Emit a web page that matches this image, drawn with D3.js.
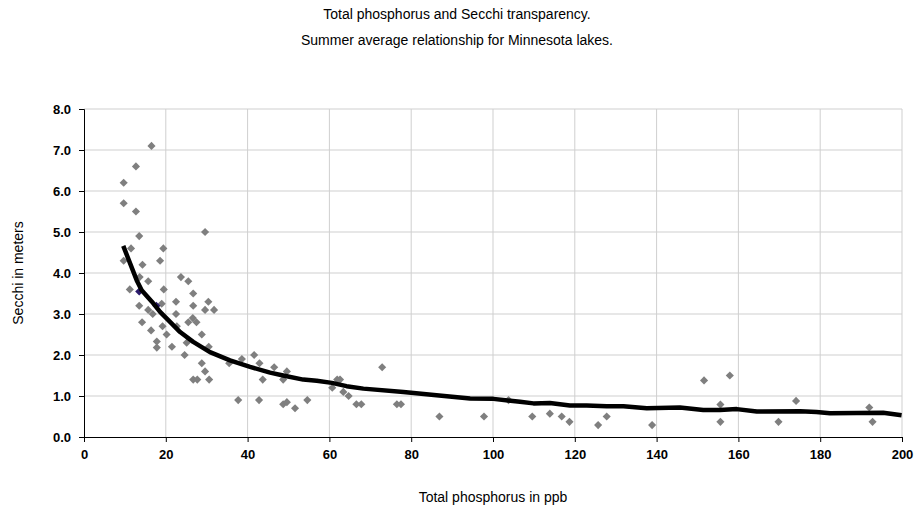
<!DOCTYPE html>
<html>
<head>
<meta charset="utf-8">
<script src="https://cdn.jsdelivr.net/npm/d3@7"></script>
<style>
  body { margin: 0; background: #fff; }
  svg text { font-family: "Liberation Sans", Arial, sans-serif; fill: #000; }
</style>
</head>
<body>
<div id="root"></div>
<script>
// lake observations: total phosphorus (ppb) and summer Secchi depth (m)
var tpValues = [16.5, 12.7, 9.7, 9.7, 12.7, 13.5, 29.6, 11.5, 19.4, 9.7,
  14.3, 18.6, 23.7, 13.6, 25.5, 15.7, 26.7, 11.2, 19.5, 30.4,
  22.5, 19.0, 13.5, 26.7, 29.6, 31.8, 15.7, 16.8, 22.5, 26.6,
  27.5, 25.5, 14.2, 19.2, 20.2, 16.4, 22.7, 28.8, 17.8, 17.8,
  21.5, 25.1, 30.5, 24.6, 28.8, 29.6, 26.7, 27.7, 30.6, 35.5,
  38.6, 41.6, 42.9, 43.7, 37.7, 42.8, 46.5, 49.6, 48.7, 48.7,
  49.6, 51.6, 54.6, 60.7, 61.9, 62.6, 63.4, 64.7, 66.6, 67.8,
  72.9, 76.5, 77.5, 86.9, 97.8, 103.8, 109.6, 113.9, 116.8, 118.7,
  125.7, 127.8, 138.9, 151.6, 155.6, 155.6, 157.9, 169.8, 174.1, 192.0, 192.8];
var secchiValues = [7.1, 6.6, 6.2, 5.7, 5.5, 4.9, 5.0, 4.6, 4.6, 4.3,
  4.2, 4.3, 3.9, 3.9, 3.8, 3.8, 3.5, 3.6, 3.6, 3.3,
  3.3, 3.25, 3.2, 3.2, 3.1, 3.1, 3.1, 3.0, 3.0, 2.9,
  2.8, 2.8, 2.8, 2.7, 2.5, 2.6, 2.7, 2.5, 2.33, 2.18,
  2.2, 2.3, 2.2, 2.0, 1.8, 1.6, 1.4, 1.4, 1.4, 1.8,
  1.9, 2.0, 1.8, 1.4, 0.9, 0.9, 1.7, 1.6, 1.4, 0.8,
  0.85, 0.7, 0.9, 1.2, 1.4, 1.4, 1.1, 1.0, 0.8, 0.8,
  1.7, 0.8, 0.8, 0.5, 0.5, 0.9, 0.5, 0.57, 0.5, 0.37,
  0.29, 0.5, 0.29, 1.38, 0.79, 0.37, 1.5, 0.37, 0.88, 0.72, 0.37];

// two highlighted lakes (dark markers)
var tpHighlight = [13.5, 17.7];
var secchiHighlight = [3.55, 3.2];

// fitted relationship as drawn
var lineTP = [9.6, 12.9, 14.1, 16.6, 18.6, 21.4, 23.5, 26.7, 30.8, 35.7,
  40.6, 45.5, 48.7, 53.6, 56.9, 60.6, 64.2, 68.3, 78.1, 86.2,
  94.4, 100.1, 106.6, 109.9, 113.9, 118.8, 122.9, 127.8, 131.9, 137.6,
  145.7, 151.4, 155.5, 159.6, 164.5, 175.1, 179.1, 182.4, 195.4, 199.9];
var lineSecchi = [4.66, 3.82, 3.58, 3.3, 3.05, 2.77, 2.56, 2.32, 2.07, 1.87,
  1.71, 1.57, 1.5, 1.4, 1.37, 1.32, 1.24, 1.18, 1.1, 1.02,
  0.94, 0.93, 0.86, 0.82, 0.83, 0.77, 0.77, 0.75, 0.75, 0.7,
  0.72, 0.66, 0.66, 0.68, 0.62, 0.63, 0.61, 0.58, 0.59, 0.53];

var xTicks = [0, 20, 40, 60, 80, 100, 120, 140, 160, 180, 200];
var yTicks = [0, 1, 2, 3, 4, 5, 6, 7, 8];

var width = 914, height = 512;
var margin = {top: 109, right: 12, bottom: 75, left: 84};

var svg = d3.select("#root")
  .append("svg")
  .attr("width", width)
  .attr("height", height);

var x = d3.scaleLinear().domain([0, 200]).range([margin.left, width - margin.right]);
var y = d3.scaleLinear().domain([0, 8]).range([height - margin.bottom, margin.top]);

// gridlines
svg.append("g")
  .selectAll("line.v")
  .data(xTicks.slice(1))
  .enter()
  .append("line")
  .attr("x1", d => x(d)).attr("x2", d => x(d))
  .attr("y1", y(0)).attr("y2", y(8))
  .attr("stroke", "#cfcfcf");

svg.append("g")
  .selectAll("line.h")
  .data(yTicks.slice(1))
  .enter()
  .append("line")
  .attr("x1", x(0)).attr("x2", x(200))
  .attr("y1", d => y(d)).attr("y2", d => y(d))
  .attr("stroke", "#cfcfcf");

// axes
var xAxis = d3.axisBottom(x).tickValues(xTicks).tickSize(5).tickPadding(8);
var yAxis = d3.axisLeft(y).tickValues(yTicks).tickSize(5).tickPadding(8)
  .tickFormat(d3.format(".1f"));

var gx = svg.append("g")
  .attr("transform", "translate(0," + y(0) + ")")
  .call(xAxis);
var gy = svg.append("g")
  .attr("transform", "translate(" + x(0) + ",0)")
  .call(yAxis);

[gx, gy].forEach(function(g) {
  g.select(".domain").attr("stroke", "#000");
  g.selectAll(".tick line").attr("stroke", "#000");
  g.selectAll(".tick text")
    .attr("font-size", 13)
    .attr("font-weight", "bold")
    .attr("font-family", "Liberation Sans, Arial, sans-serif");
});

// points
var diamond = d3.symbol().type(d3.symbolDiamond2).size(42);

svg.append("g")
  .selectAll("path")
  .data(d3.range(tpValues.length))
  .enter()
  .append("path")
  .attr("d", diamond)
  .attr("transform", i => "translate(" + x(tpValues[i]) + "," + y(secchiValues[i]) + ")")
  .attr("fill", "#7f7f7f");

svg.append("g")
  .selectAll("path")
  .data(d3.range(tpHighlight.length))
  .enter()
  .append("path")
  .attr("d", diamond)
  .attr("transform", i => "translate(" + x(tpHighlight[i]) + "," + y(secchiHighlight[i]) + ")")
  .attr("fill", "#2b1b6b");

// fitted line
var line = d3.line()
  .x(i => x(lineTP[i]))
  .y(i => y(lineSecchi[i]));

svg.append("path")
  .datum(d3.range(lineTP.length))
  .attr("d", line)
  .attr("fill", "none")
  .attr("stroke", "#000")
  .attr("stroke-width", 4.5)
  .attr("stroke-linejoin", "round");

// titles
svg.append("text")
  .attr("x", 457).attr("y", 19)
  .attr("text-anchor", "middle")
  .attr("font-size", 14)
  .text("Total phosphorus and Secchi transparency.");

svg.append("text")
  .attr("x", 457).attr("y", 45)
  .attr("text-anchor", "middle")
  .attr("font-size", 14)
  .text("Summer average relationship for Minnesota lakes.");

svg.append("text")
  .attr("x", (x(0) + x(200)) / 2).attr("y", 502)
  .attr("text-anchor", "middle")
  .attr("font-size", 14)
  .text("Total phosphorus in ppb");

svg.append("text")
  .attr("transform", "translate(23," + y(4) + ") rotate(-90)")
  .attr("text-anchor", "middle")
  .attr("font-size", 14)
  .text("Secchi in meters");
</script>
</body>
</html>
